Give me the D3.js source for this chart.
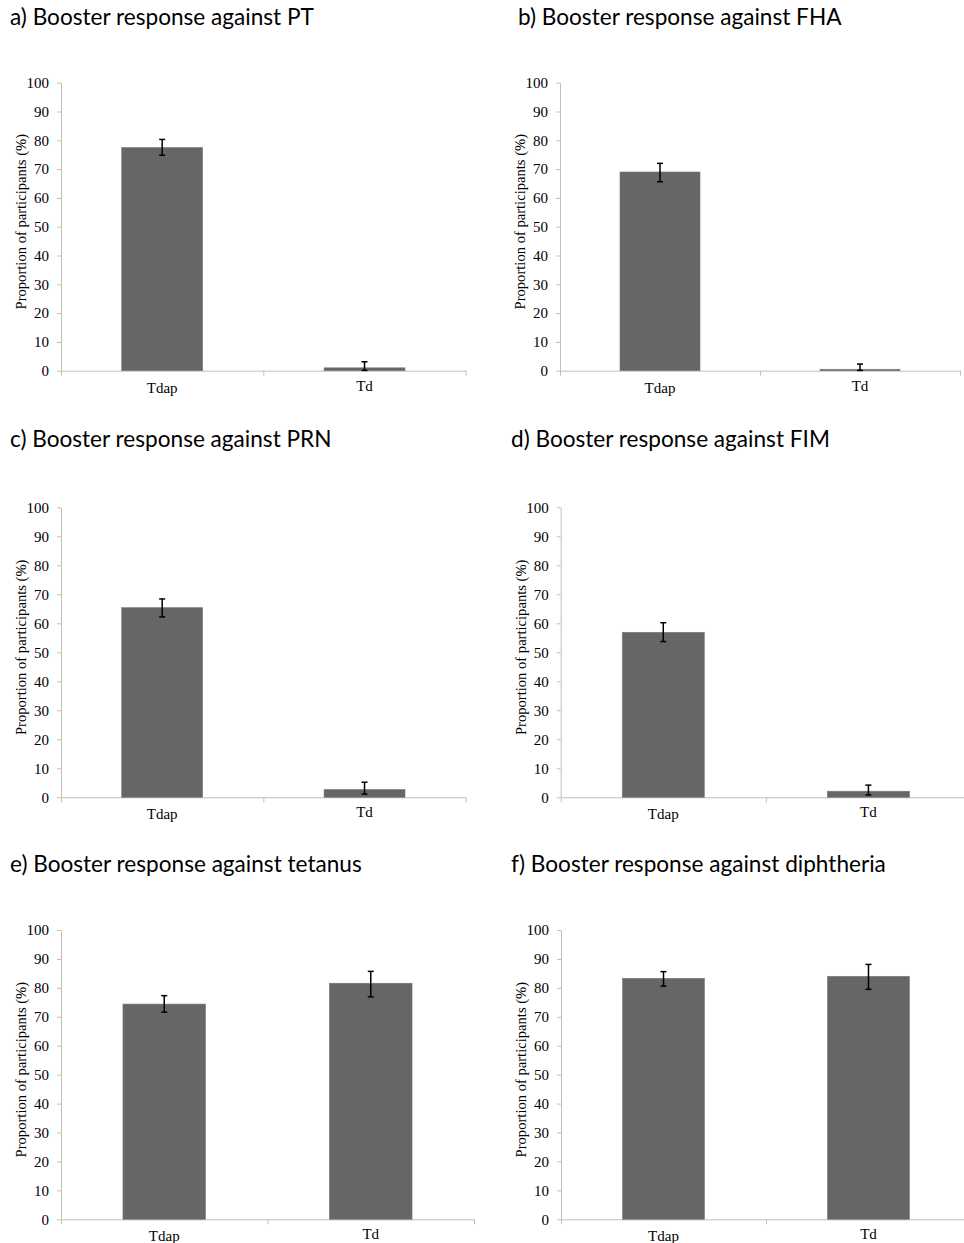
<!DOCTYPE html>
<html>
<head>
<meta charset="utf-8">
<script src="https://cdn.jsdelivr.net/npm/d3@7"></script>
<style>
  body { margin: 0; background: #fff; }
  svg { display: block; }
</style>
</head>
<body>
<div id="chart"></div>
<script>
// values, one entry per panel (a..f)
const categories = ["Tdap", "Td"];
const titles = [
  "a) Booster response against PT",
  "b) Booster response against FHA",
  "c) Booster response against PRN",
  "d) Booster response against FIM",
  "e) Booster response against tetanus",
  "f) Booster response against diphtheria"
];
const tdapPct    = [77.5, 69.0, 65.4, 56.9, 74.4, 83.3];
const tdapCiLow  = [74.8, 65.6, 62.2, 53.7, 71.6, 80.6];
const tdapCiHigh = [80.3, 72.0, 68.4, 60.2, 77.3, 85.6];
const tdPct      = [1.0, 0.5, 2.7, 2.1, 81.6, 84.0];
const tdCiLow    = [0.1, 0.1, 1.1, 0.8, 76.9, 79.5];
const tdCiHigh   = [3.1, 2.3, 5.2, 4.2, 85.7, 88.1];
const yTicks = [0, 10, 20, 30, 40, 50, 60, 70, 80, 90, 100];
const yLabel = "Proportion of participants (%)";

// panel frames (plot area in page pixels)
const panels = [
  {x0: 61,  x1: 465.7, top: 82.7, bottom: 370.7, tx: 10,  ty: 25},
  {x0: 560, x1: 960,   top: 82.7, bottom: 370.7, tx: 518, ty: 25},
  {x0: 61,  x1: 465.7, top: 507.3, bottom: 797.3, tx: 10, ty: 447},
  {x0: 560.7, x1: 971, top: 507.3, bottom: 797.3, tx: 511, ty: 447},
  {x0: 61,  x1: 474,   top: 930, bottom: 1219.3, tx: 10,  ty: 872},
  {x0: 561, x1: 971,   top: 930, bottom: 1219.3, tx: 511, ty: 872}
];

const svg = d3.select("#chart").append("svg")
    .attr("width", 964)
    .attr("height", 1243);

const serif = "'Liberation Serif', 'DejaVu Serif', serif";

panels.forEach((p, i) => {
  const rows = categories.map((c, j) => ({
    cat: c,
    value: j === 0 ? tdapPct[i] : tdPct[i],
    lo: j === 0 ? tdapCiLow[i] : tdCiLow[i],
    hi: j === 0 ? tdapCiHigh[i] : tdCiHigh[i]
  }));

  const x = d3.scaleBand().domain(categories).range([p.x0, p.x1]).padding(0);
  const xEdge = d3.scaleLinear().domain([0, categories.length]).range([p.x0, p.x1]);
  const y = d3.scaleLinear().domain([0, 100]).range([p.bottom, p.top]);

  // title
  svg.append("text")
      .attr("x", p.tx)
      .attr("y", p.ty)
      .style("font-family", "Lato, 'Open Sans', sans-serif")
      .style("font-size", "22.6px")
      .attr("fill", "#000")
      .text(titles[i]);

  // y axis
  const ya = svg.append("g")
      .attr("transform", `translate(${p.x0},0)`)
      .call(d3.axisLeft(y).tickValues(yTicks).tickSize(4).tickSizeOuter(0).tickPadding(8))
      .attr("font-family", serif)
      .attr("font-size", 15);
  ya.select(".domain").attr("stroke", "#bfbfbf");
  ya.selectAll(".tick line").attr("stroke", "#bfbfbf");
  ya.selectAll(".tick text")
      .style("font-family", serif)
      .style("font-size", "15px")
      .attr("fill", "#000");

  // x axis line with ticks at category boundaries
  const xe = svg.append("g")
      .attr("transform", `translate(0,${p.bottom})`)
      .call(d3.axisBottom(xEdge).tickValues(d3.range(categories.length + 1))
        .tickFormat("").tickSize(5).tickSizeOuter(0));
  xe.select(".domain").attr("stroke", "#bfbfbf");
  xe.selectAll(".tick line").attr("stroke", "#bfbfbf");

  // category labels
  const xl = svg.append("g")
      .attr("transform", `translate(0,${p.bottom})`)
      .call(d3.axisBottom(x).tickSize(0).tickPadding(0))
      .attr("font-family", serif)
      .attr("font-size", 15);
  xl.select(".domain").remove();
  xl.selectAll(".tick text")
      .style("font-family", serif)
      .style("font-size", "15px")
      .attr("fill", "#000")
      .attr("dy", (d, j) => j === 0 ? "22px" : "20px")
      .attr("y", 0);

  // y axis title
  svg.append("text")
      .attr("transform", `translate(${p.x0 - 35},${(p.top + p.bottom) / 2 - 5}) rotate(-90)`)
      .attr("text-anchor", "middle")
      .style("font-family", serif)
      .style("font-size", "14.6px")
      .attr("fill", "#000")
      .text(yLabel);

  const bw = x.bandwidth() * 0.4;

  // bars
  svg.append("g").selectAll("rect")
      .data(rows)
      .join("rect")
      .attr("x", d => x(d.cat) + (x.bandwidth() - bw) / 2)
      .attr("y", d => y(d.value))
      .attr("width", bw)
      .attr("height", d => y(0) - y(d.value))
      .attr("fill", "#666666")
      .attr("stroke", "#7a7a7a")
      .attr("stroke-width", 0.6);

  // error bars
  const eb = svg.append("g")
      .attr("stroke", "#000")
      .attr("stroke-width", 1.5)
      .selectAll("g")
      .data(rows)
      .join("g")
      .attr("transform", d => `translate(${x(d.cat) + x.bandwidth() / 2},0)`);
  eb.append("line")
      .attr("y1", d => y(d.lo))
      .attr("y2", d => y(d.hi));
  eb.append("line")
      .attr("x1", -3).attr("x2", 3)
      .attr("y1", d => y(d.hi)).attr("y2", d => y(d.hi));
  eb.append("line")
      .attr("x1", -3).attr("x2", 3)
      .attr("y1", d => y(d.lo)).attr("y2", d => y(d.lo));
});
</script>
</body>
</html>
